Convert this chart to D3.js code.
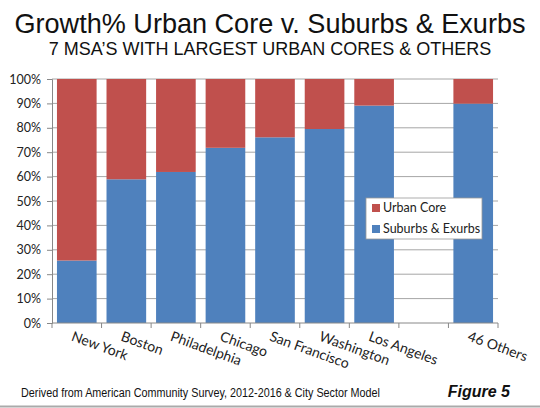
<!DOCTYPE html>
<html lang="en">
<head>
<meta charset="UTF-8">
<title>Growth% Urban Core v. Suburbs & Exurbs</title>
<script src="https://cdn.jsdelivr.net/npm/d3@7"></script>
<style>
  body { margin: 0; background: #fff; }
  svg { display: block; }
</style>
</head>
<body>
<script>
// data
const categories = ["New York", "Boston", "Philadelphia", "Chicago", "San Francisco", "Washington", "Los Angeles", "", "46 Others"]
const suburbs = [25.6, 58.9, 61.9, 71.8, 76.1, 79.5, 89.1, null, 89.9]
const urbanCore = suburbs.map(v => v == null ? null : 100 - v)
const yTicks = [0, 10, 20, 30, 40, 50, 60, 70, 80, 90, 100]
const seriesNames = ["Urban Core", "Suburbs & Exurbs"]
const colors = { "Urban Core": "#c0504d", "Suburbs & Exurbs": "#4f81bd" }

const w = 540
const h = 408
const m = { top: 79, right: 42, bottom: 85, left: 52 }

const svg = d3.select("body").append("svg")
    .attr("width", w)
    .attr("height", h)

// keys are indices so the empty slot still gets a band
const x = d3.scaleBand()
    .domain(categories.map((d, i) => i))
    .range([m.left, w - m.right])
    .paddingInner(0.2)
    .paddingOuter(0.1)

const y = d3.scaleLinear()
    .domain([0, 100])
    .range([h - m.bottom, m.top])

//gridlines
svg.append("g")
    .selectAll("line")
    .data(yTicks.slice(1))
    .enter()
    .append("line")
    .attr("x1", m.left)
    .attr("x2", w - m.right)
    .attr("y1", d => y(d))
    .attr("y2", d => y(d))
    .attr("stroke", "#a6a6a6")
    .attr("stroke-width", 1)

//stacked bars
const rows = categories.map((c, i) => ({ i: i, core: urbanCore[i], sub: suburbs[i] }))
    .filter(d => d.sub != null)

svg.append("g").selectAll("rect.sub")
    .data(rows)
    .enter()
    .append("rect")
    .attr("x", d => x(d.i))
    .attr("width", x.bandwidth())
    .attr("y", d => y(d.sub))
    .attr("height", d => y(0) - y(d.sub))
    .attr("fill", colors["Suburbs & Exurbs"])

svg.append("g").selectAll("rect.core")
    .data(rows)
    .enter()
    .append("rect")
    .attr("x", d => x(d.i))
    .attr("width", x.bandwidth())
    .attr("y", d => y(d.sub + d.core))
    .attr("height", d => y(d.sub) - y(d.sub + d.core))
    .attr("fill", colors["Urban Core"])

//y axis
const yAxis = d3.axisLeft(y)
    .tickValues(yTicks)
    .tickFormat(d => d + "%")
    .tickSize(5)
    .tickPadding(6)

const gy = svg.append("g")
    .attr("transform", `translate(${m.left},0)`)
    .call(yAxis)
gy.select(".domain").attr("stroke", "#888")
gy.selectAll(".tick line").attr("stroke", "#888")
gy.selectAll("text")
    .attr("font-family", "Lato, 'Open Sans', sans-serif")
    .attr("font-size", "12.5px")
    .attr("fill", "#222")

//x axis: ticks between categories
const bounds = d3.range(categories.length + 1).map(k => m.left + k * (w - m.left - m.right) / categories.length)
const gx = svg.append("g")
gx.append("line")
    .attr("x1", m.left).attr("x2", w - m.right)
    .attr("y1", y(0)).attr("y2", y(0))
    .attr("stroke", "#888")
gx.selectAll("line.tk")
    .data(bounds)
    .enter()
    .append("line")
    .attr("x1", d => d).attr("x2", d => d)
    .attr("y1", y(0)).attr("y2", y(0) + 5)
    .attr("stroke", "#888")

gx.selectAll("text")
    .data(categories.map((c, i) => ({ c: c, i: i })).filter(d => d.c !== ""))
    .enter()
    .append("text")
    .attr("transform", d => `translate(${x(d.i) + x.bandwidth() / 2 - 3},${y(0) + 8}) rotate(20)`)
    .attr("font-family", "Lato, 'Open Sans', sans-serif")
    .attr("font-size", "14px")
    .attr("fill", "#222")
    .attr("dy", "0.7em")
    .text(d => d.c)

//legend
const legend = svg.append("g").attr("transform", "translate(366,198)")
legend.append("rect")
    .attr("width", 116).attr("height", 41)
    .attr("fill", "#fff")
    .attr("stroke", "#999")
    .attr("stroke-width", 0.8)
seriesNames.forEach((s, k) => {
    legend.append("rect")
        .attr("x", 6).attr("y", 6 + k * 21)
        .attr("width", 8).attr("height", 8)
        .attr("fill", colors[s])
    legend.append("text")
        .attr("x", 17).attr("y", 10 + k * 21)
        .attr("dy", "0.35em")
        .attr("font-family", "Lato, 'Open Sans', sans-serif")
        .attr("font-size", "12.5px")
        .attr("fill", "#222")
        .text(s)
})

//titles
svg.append("text")
    .attr("x", w / 2).attr("y", 33)
    .attr("text-anchor", "middle")
    .attr("font-family", "'Liberation Sans', Arial, sans-serif")
    .attr("font-size", "27.5px")
    .attr("textLength", 511)
    .attr("lengthAdjust", "spacingAndGlyphs")
    .attr("fill", "#111")
    .text("Growth% Urban Core v. Suburbs & Exurbs")

svg.append("text")
    .attr("x", w / 2).attr("y", 55)
    .attr("text-anchor", "middle")
    .attr("font-family", "'Liberation Sans', Arial, sans-serif")
    .attr("font-size", "18px")
    .attr("fill", "#111")
    .text("7 MSA\u2019S WITH LARGEST URBAN CORES & OTHERS")

//footer, squeezed horizontally like a narrow font
const foot = svg.append("g")
const footText = foot.append("text")
    .attr("font-family", "'Liberation Sans', Arial, sans-serif")
    .attr("font-size", "13.5px")
    .attr("fill", "#111")
    .text("Derived from American Community Survey, 2012-2016 & City Sector Model")
const sx = 359 / footText.node().getComputedTextLength()
foot.attr("transform", `translate(21,397) scale(${sx},1)`)

svg.append("text")
    .attr("x", 510).attr("y", 397)
    .attr("text-anchor", "end")
    .attr("font-family", "'Liberation Sans', Arial, sans-serif")
    .attr("font-size", "16px")
    .attr("font-weight", "bold")
    .attr("font-style", "italic")
    .attr("fill", "#111")
    .text("Figure 5")

svg.append("line")
    .attr("x1", 0).attr("x2", w)
    .attr("y1", h - 1.5).attr("y2", h - 1.5)
    .attr("stroke", "#aaa")
    .attr("stroke-width", 2)
</script>
</body>
</html>
